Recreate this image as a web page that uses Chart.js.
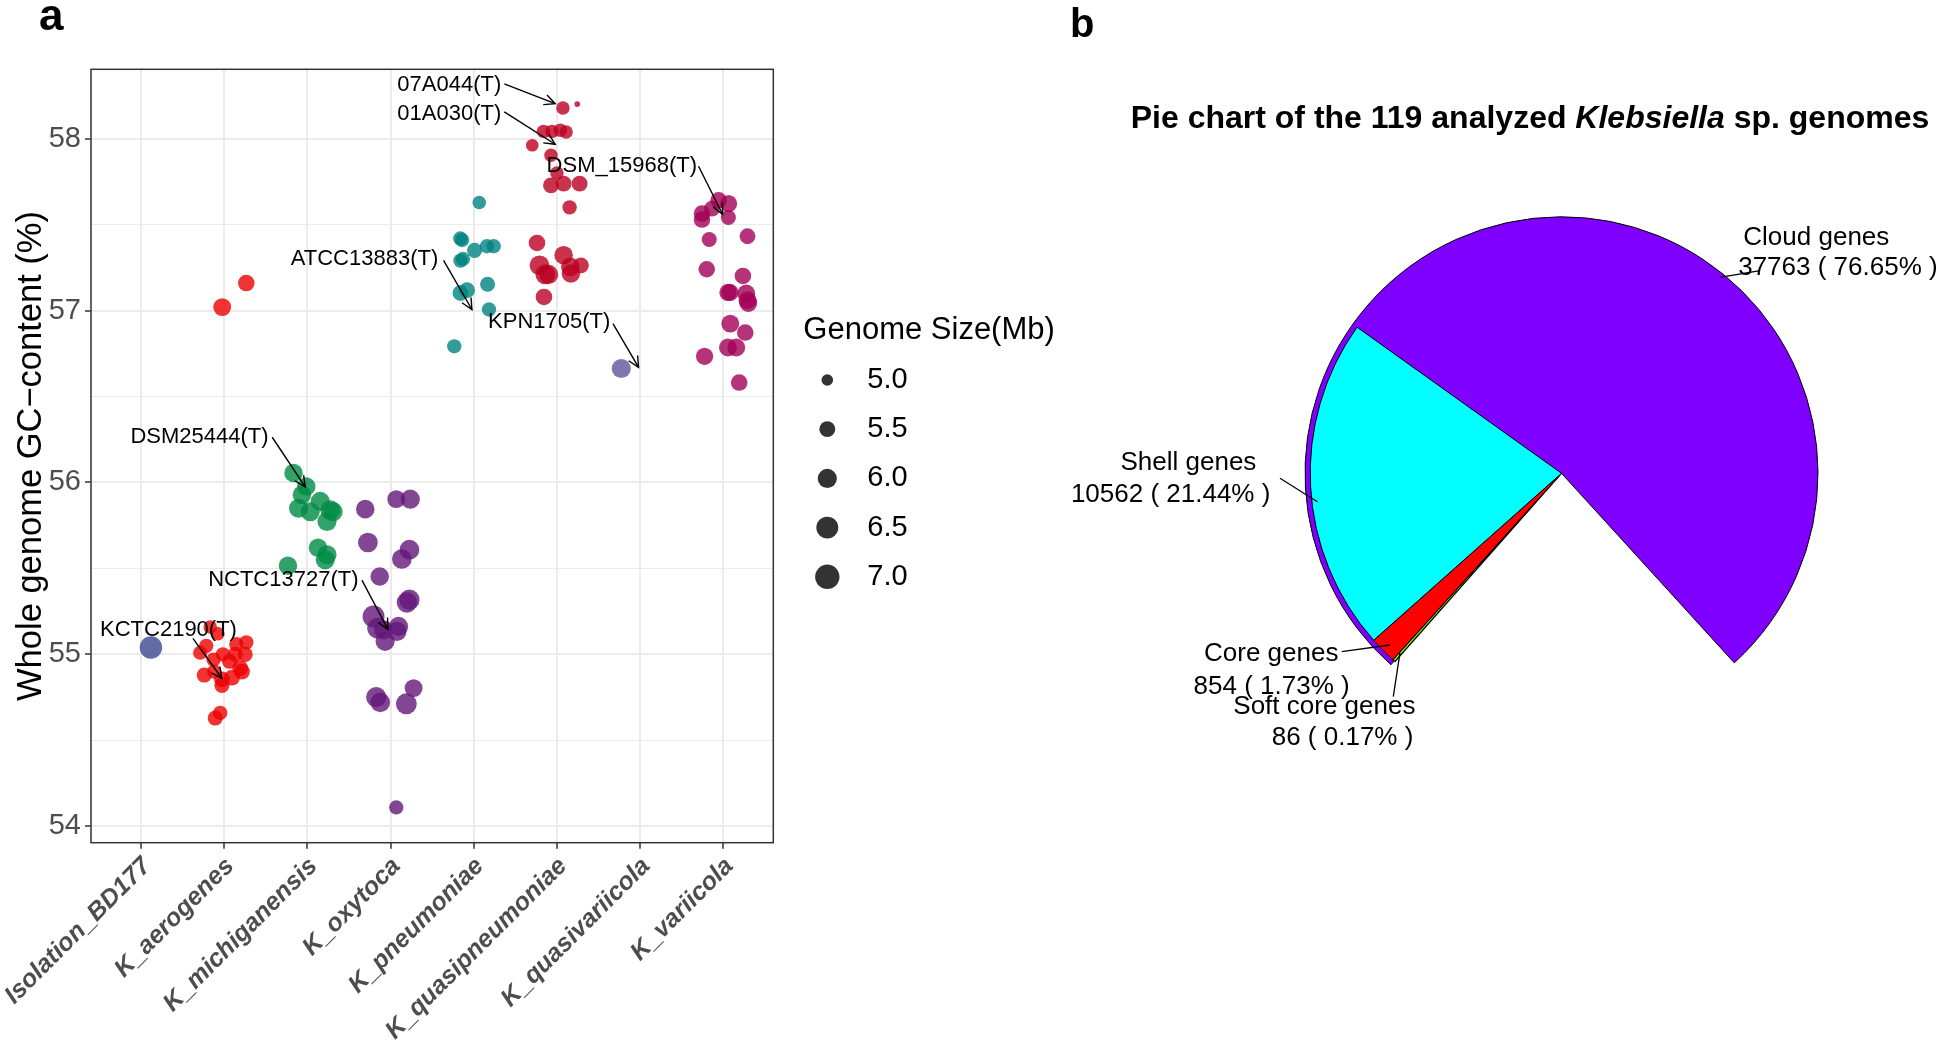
<!DOCTYPE html>
<html><head><meta charset="utf-8">
<script src="https://cdn.jsdelivr.net/npm/chart.js@4/dist/chart.umd.min.js"></script>
<style>
html,body{margin:0;padding:0;background:#fff;width:1946px;height:1047px;overflow:hidden;}
canvas{position:absolute;top:0;}
#scatter{left:0;}
#pieBase,#pieTop{left:1065px;}
</style></head><body>
<canvas id="scatter" width="1065" height="1047" style="width:1065px;height:1047px"></canvas>
<canvas id="pieBase" width="881" height="1047" style="width:881px;height:1047px"></canvas>
<canvas id="pieTop" width="881" height="1047" style="width:881px;height:1047px"></canvas>
<script>
// ---------------- DATA (panel a) ----------------
const categories = ['Isolation_BD177','K_aerogenes','K_michiganensis','K_oxytoca','K_pneumoniae','K_quasipneumoniae','K_quasivariicola','K_variicola'];
const yTickValues = [54, 54.5, 55, 55.5, 56, 56.5, 57, 57.5, 58];
// rows: [jittered x position, GC content (%), genome size (Mb)]
const Isolation_BD177 = [[0.12, 55.04, 6.6]];
const K_aerogenes = [[0.977,57.02,5.8],[1.266,57.16,5.6],[0.833,55.16,5.2],[0.925,55.12,5.2],[0.785,55.05,5.3],[0.713,55.01,5.3],[1.146,55.06,5.3],[1.266,55.07,5.3],[0.985,55.0,5.3],[1.133,55.0,5.4],[1.253,55.0,5.4],[0.873,54.97,5.3],[1.065,54.96,5.4],[1.193,54.92,5.5],[1.214,54.90,5.5],[0.761,54.88,5.4],[0.881,54.90,5.3],[0.973,54.855,5.5],[1.094,54.865,5.5],[0.973,54.82,5.4],[0.953,54.66,5.3],[0.893,54.63,5.4]];
const K_michiganensis = [[1.834,56.055,5.9],[1.987,55.977,5.9],[1.935,55.928,5.9],[2.155,55.89,6.0],[2.275,55.84,6.1],[2.31,55.83,6.0],[1.895,55.85,6.0],[2.035,55.83,6.0],[2.236,55.773,6.0],[2.128,55.62,5.9],[2.236,55.58,6.0],[2.215,55.55,6.0],[1.767,55.516,5.9]];
const K_oxytoca = [[2.696,55.845,5.9],[3.069,55.903,5.8],[3.237,55.903,6.0],[2.728,55.651,6.1],[3.227,55.609,6.1],[3.136,55.555,6.1],[2.87,55.453,5.9],[3.227,55.318,6.2],[3.196,55.302,6.2],[2.796,55.221,6.5],[2.844,55.153,6.3],[2.916,55.143,6.0],[3.096,55.163,6.0],[3.077,55.134,6.0],[2.935,55.076,6.0],[2.828,54.752,6.2],[2.876,54.721,6.1],[3.19,54.713,6.3],[3.277,54.804,5.8],[3.069,54.11,5.3]];
const K_pneumoniae = [[4.066,57.628,5.2],[3.838,57.419,5.3],[3.86,57.41,5.3],[4.01,57.35,5.4],[4.159,57.374,5.3],[4.24,57.374,5.3],[3.84,57.29,5.3],[3.87,57.30,5.3],[3.92,57.118,5.5],[3.84,57.102,5.5],[4.166,57.153,5.4],[4.183,57.006,5.3],[3.766,56.792,5.3]];
const K_quasipneumoniae = [[5.072,58.178,5.2],[5.244,58.201,4.55],[4.839,58.042,5.2],[4.94,58.042,5.2],[5.04,58.048,5.2],[5.11,58.038,5.2],[4.703,57.961,5.1],[4.928,57.903,5.2],[5.0,57.80,5.2],[4.928,57.728,5.5],[5.08,57.738,5.5],[5.272,57.738,5.5],[5.152,57.60,5.3],[4.76,57.393,5.6],[5.08,57.322,5.9],[4.79,57.263,6.1],[4.86,57.21,6.1],[4.90,57.21,6.0],[5.16,57.254,5.9],[5.168,57.215,5.9],[5.288,57.263,5.5],[4.844,57.079,5.6]];
const K_quasivariicola = [[5.773, 56.663, 6.0]];
const K_variicola = [[6.943,57.641,5.6],[7.062,57.622,5.7],[6.863,57.593,5.5],[6.743,57.564,5.6],[6.743,57.529,5.6],[7.06,57.541,5.4],[6.83,57.413,5.4],[7.29,57.432,5.5],[6.80,57.24,5.6],[7.235,57.201,5.6],[7.055,57.105,5.7],[7.08,57.105,5.7],[7.275,57.099,5.8],[7.29,57.06,5.8],[7.30,57.044,5.8],[7.083,56.924,5.8],[7.263,56.872,5.6],[7.055,56.785,5.8],[7.155,56.785,5.8],[6.774,56.734,5.7],[7.19,56.581,5.6]];
const legendSizes = [5.0, 5.5, 6.0, 6.5, 7.0];
// annotation labels: text, label anchor (right end, data units), arrow start, arrow end
const annoText = ['07A044(T)','01A030(T)','DSM_15968(T)','ATCC13883(T)','KPN1705(T)','DSM25444(T)','NCTC13727(T)','KCTC2190(T)'];
const annoTextPos = [[4.331,58.31],[4.331,58.145],[6.683,57.839],[3.573,57.298],[5.641,56.934],[1.534,56.265],[2.615,55.436],[1.154,55.145]];
const annoArrowFrom = [[4.367,58.318],[4.367,58.155],[6.702,57.839],[3.637,57.292],[5.673,56.924],[1.578,56.263],[2.656,55.432],[0.625,55.093]];
const annoArrowTo = [[4.979,58.203],[4.979,57.967],[6.99,57.56],[3.978,57.006],[5.981,56.669],[1.975,55.974],[2.969,55.145],[0.974,54.86]];

// ---------------- DATA (panel b) ----------------
const pieCategories = ['Core genes','Soft core genes','Shell genes','Cloud genes'];
const pieCounts = [854, 86, 10562, 37763];
const piePercents = ['1.73','0.17','21.44','76.65'];

// ---------------- STYLE ----------------
const FONT = '"Liberation Sans", Arial, Helvetica, sans-serif';
Chart.defaults.font.family = FONT;
const speciesRows = [Isolation_BD177,K_aerogenes,K_michiganensis,K_oxytoca,K_pneumoniae,K_quasipneumoniae,K_quasivariicola,K_variicola];
const speciesColors = ['rgba(59,73,146,0.8)','rgba(238,0,0,0.8)','rgba(0,139,69,0.8)','rgba(99,24,121,0.8)','rgba(0,130,128,0.8)','rgba(187,0,33,0.8)','rgba(95,85,155,0.8)','rgba(162,0,86,0.8)'];
const sizeToRadius = s => Math.sqrt(Math.max(34 + 57.5 * (s - 5), 6));

function drawArrow(ctx, x0, y0, x1, y1) {
  ctx.beginPath(); ctx.moveTo(x0, y0); ctx.lineTo(x1, y1); ctx.stroke();
  const a = Math.atan2(y1 - y0, x1 - x0), L = 12, w = 0.45;
  ctx.beginPath();
  ctx.moveTo(x1 - L * Math.cos(a - w), y1 - L * Math.sin(a - w));
  ctx.lineTo(x1, y1);
  ctx.lineTo(x1 - L * Math.cos(a + w), y1 - L * Math.sin(a + w));
  ctx.stroke();
}

const scatterDecor = {
  id: 'scatterDecor',
  afterDatasetsDraw(chart) {
    const {ctx, chartArea: a, scales: {x, y}} = chart;
    ctx.save();
    ctx.strokeStyle = '#333'; ctx.lineWidth = 1.5;
    ctx.strokeRect(a.left, a.top, a.right - a.left, a.bottom - a.top);
    ctx.font = '22px ' + FONT; ctx.fillStyle = '#000';
    ctx.textAlign = 'right'; ctx.textBaseline = 'middle';
    ctx.strokeStyle = '#000'; ctx.lineWidth = 1.4;
    annoText.forEach((t, i) => {
      ctx.fillText(t, x.getPixelForValue(annoTextPos[i][0]), y.getPixelForValue(annoTextPos[i][1]));
      drawArrow(ctx, x.getPixelForValue(annoArrowFrom[i][0]), y.getPixelForValue(annoArrowFrom[i][1]),
                     x.getPixelForValue(annoArrowTo[i][0]), y.getPixelForValue(annoArrowTo[i][1]));
    });
    ctx.restore();
  },
  afterDraw(chart) {
    const {ctx, chartArea: a} = chart;
    ctx.save();
    // panel letter
    ctx.font = 'bold 44px ' + FONT; ctx.fillStyle = '#000'; ctx.textAlign = 'left'; ctx.textBaseline = 'alphabetic';
    ctx.fillText('a', 39, 29.5);
    // size legend
    ctx.font = '31px ' + FONT; ctx.textBaseline = 'middle';
    ctx.fillText('Genome Size(Mb)', a.right + 30, 330);
    ctx.font = '29px ' + FONT;
    legendSizes.forEach((s, i) => {
      const cy = 380 + i * 49.2;
      ctx.fillStyle = 'rgba(0,0,0,0.8)';
      ctx.beginPath(); ctx.arc(a.right + 54, cy, sizeToRadius(s), 0, Math.PI * 2); ctx.fill();
      ctx.fillStyle = '#000';
      ctx.fillText(s.toFixed(1), a.right + 94, cy);
    });
    ctx.restore();
  }
};

const datasets = speciesRows.map((rows, i) => ({
  label: categories[i],
  data: rows.map(r => ({x: r[0], y: r[1], s: r[2]})),
  pointBackgroundColor: speciesColors[i],
  pointBorderWidth: 0,
  pointRadius: c => sizeToRadius(c.raw.s),
  pointHoverRadius: c => sizeToRadius(c.raw.s),
  showLine: false
}));

new Chart(document.getElementById('scatter'), {
  type: 'scatter',
  data: {datasets},
  options: {
    responsive: false, animation: false, events: [],
    layout: {padding: {left: 0, top: 69.3, right: 291.7, bottom: 0}},
    plugins: {legend: {display: false}, tooltip: {enabled: false}},
    scales: {
      x: {
        type: 'linear', min: -0.6, max: 7.6,
        afterBuildTicks: s => { s.ticks = categories.map((c, i) => ({value: i})); },
        afterFit: s => { s.height = 204.3; s.paddingLeft = 0; s.paddingRight = 0; },
        ticks: {autoSkip: false, maxRotation: 45, minRotation: 45, padding: 3, labelOffset: 6, color: '#4D4D4D',
                font: {size: 25, weight: 'bold', style: 'italic'},
                callback: v => categories[v] !== undefined ? categories[v] : ''},
        grid: {color: '#EBEBEB', lineWidth: 2, tickColor: '#333', tickWidth: 1.5, tickLength: 6},
        border: {display: false}
      },
      y: {
        type: 'linear', min: 53.905, max: 58.403,
        afterBuildTicks: s => { s.ticks = yTickValues.map(v => ({value: v})); },
        afterFit: s => { s.width = 91; s.paddingTop = 0; s.paddingBottom = 0; },
        ticks: {padding: 4, color: '#4D4D4D', font: {size: 29},
                callback: v => Number.isInteger(v) ? String(v) : ''},
        grid: {color: '#EBEBEB',
               lineWidth: c => (c.tick && Number.isInteger(c.tick.value)) ? 2 : 1,
               tickColor: c => (c.tick && Number.isInteger(c.tick.value)) ? '#333' : 'rgba(0,0,0,0)',
               tickWidth: 1.5, tickLength: 6},
        border: {display: false},
        title: {display: true, text: 'Whole genome GC\u2212content (%)', color: '#000', font: {size: 34.5}, padding: {top: 11, bottom: 0}}
      }
    }
  },
  plugins: [scatterDecor]
});

// ---------------- PIE (panel b) ----------------
const piePadding = {left: 239.5, top: 216.3, right: 127.5, bottom: 316.7};
const cloudIdx = 3;
const otherTotal = pieCounts[0] + pieCounts[1] + pieCounts[2];

new Chart(document.getElementById('pieBase'), {
  type: 'pie',
  data: {labels: ['Cloud genes', ''], datasets: [{
    data: [pieCounts[cloudIdx], otherTotal],
    backgroundColor: ['#8000FF', 'rgba(0,0,0,0)'],
    borderColor: '#000', borderWidth: [1, 0], offset: 0, hoverOffset: 0
  }]},
  options: {responsive: false, animation: false, events: [], rotation: 221.7,
    layout: {padding: piePadding}, plugins: {legend: {display: false}, tooltip: {enabled: false}}}
});

const pieLabelLayout = [
  {lines: [[-1.391, 0.7031], [-1.4315, 0.8304]], leader: [[-0.6673, 0.6681], [-0.8553, 0.6942]]},
  {lines: [[-1.277, 0.9105], [-1.1276, 1.0311]], leader: [[-0.6284, 0.698], [-0.6545, 0.8693]]},
  {lines: [[-1.716, -0.0389], [-1.909, 0.0844]], leader: [[-0.9498, 0.1105], [-1.0953, 0.0195]]},
  {lines: [[0.7074, -0.918], [0.6875, -0.798]], leader: [[0.6167, -0.7626], [0.7724, -0.7883]]}
];

const pieDecor = {
  id: 'pieDecor',
  afterDraw(chart) {
    const {ctx, chartArea: a} = chart;
    const cx = (a.left + a.right) / 2, cy = (a.top + a.bottom) / 2;
    const R = Math.min(a.right - a.left, a.bottom - a.top) / 2;
    ctx.save();
    ctx.fillStyle = '#000'; ctx.strokeStyle = '#000'; ctx.lineWidth = 1.3;
    ctx.font = '26px ' + FONT; ctx.textAlign = 'left'; ctx.textBaseline = 'middle';
    pieCategories.forEach((name, i) => {
      const L = pieLabelLayout[i];
      const texts = [name, pieCounts[i] + ' ( ' + piePercents[i] + '% )'];
      texts.forEach((t, j) => ctx.fillText(t, cx + L.lines[j][0] * R, cy + L.lines[j][1] * R));
      ctx.beginPath();
      ctx.moveTo(cx + L.leader[0][0] * R, cy + L.leader[0][1] * R);
      ctx.lineTo(cx + L.leader[1][0] * R, cy + L.leader[1][1] * R);
      ctx.stroke();
    });
    // panel letter
    ctx.textBaseline = 'alphabetic';
    ctx.font = 'bold 40px ' + FONT;
    ctx.fillText('b', 5, 36.7);
    // title with italic genus
    const segs = [['Pie chart of the 119 analyzed ', 'bold 32px ' + FONT], ['Klebsiella', 'italic bold 32px ' + FONT], [' sp. genomes', 'bold 32px ' + FONT]];
    let total = 0;
    segs.forEach(s => { ctx.font = s[1]; total += ctx.measureText(s[0]).width; });
    let x = 465 - total / 2;
    segs.forEach(s => { ctx.font = s[1]; ctx.fillText(s[0], x, 128); x += ctx.measureText(s[0]).width; });
    ctx.restore();
  }
};

new Chart(document.getElementById('pieTop'), {
  type: 'pie',
  data: {labels: [pieCategories[1], pieCategories[0], pieCategories[2], ''], datasets: [{
    data: [pieCounts[1], pieCounts[0], pieCounts[2], pieCounts[cloudIdx]],
    backgroundColor: ['#80FF00', '#FF0000', '#00FFFF', 'rgba(0,0,0,0)'],
    borderColor: '#000', borderWidth: [1.2, 1, 1, 0], offset: 0, hoverOffset: 0,
    radius: '98%'
  }]},
  options: {responsive: false, animation: false, events: [], rotation: 221.5,
    layout: {padding: piePadding}, plugins: {legend: {display: false}, tooltip: {enabled: false}}},
  plugins: [pieDecor]
});
</script>
</body></html>
